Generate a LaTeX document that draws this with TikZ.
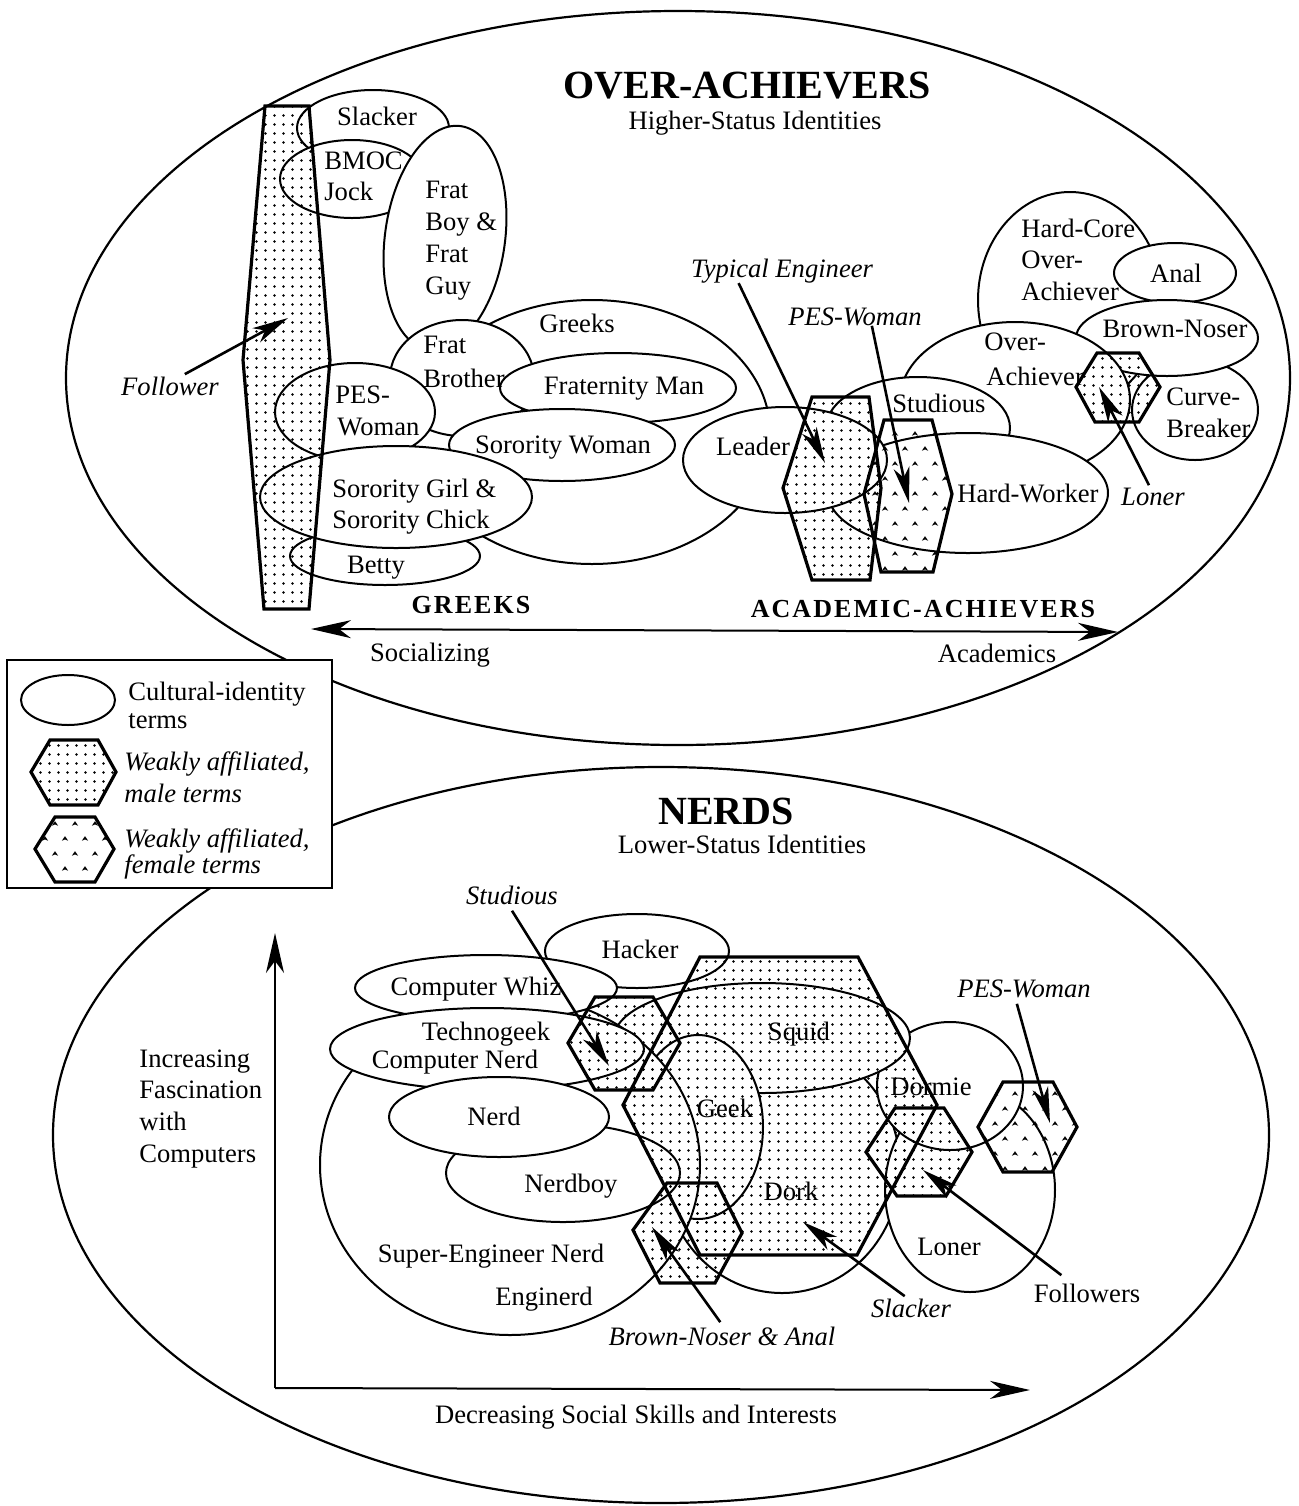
\documentclass[tikz,border=0pt]{standalone}
\usepackage{fontspec}
\setmainfont{Liberation Serif}
\usetikzlibrary{arrows.meta,patterns}
\pgfdeclarepatternformonly{maledots}{\pgfqpoint{-1pt}{-1pt}}{\pgfqpoint{5.5pt}{5.5pt}}{\pgfqpoint{4.5pt}{4.5pt}}{%
  \pgfpathcircle{\pgfqpoint{2.25pt}{2.25pt}}{0.7pt}\pgfusepath{fill}}
\pgfdeclarepatternformonly{femcarets}{\pgfqpoint{-1pt}{-1pt}}{\pgfqpoint{11pt}{16pt}}{\pgfqpoint{10pt}{15pt}}{%
  \pgfpathmoveto{\pgfqpoint{0.9pt}{2.6pt}}\pgfpathlineto{\pgfqpoint{2.5pt}{4.9pt}}\pgfpathlineto{\pgfqpoint{4.1pt}{2.6pt}}\pgfpathlineto{\pgfqpoint{2.5pt}{3.3pt}}\pgfpathclose
  \pgfpathmoveto{\pgfqpoint{5.9pt}{10.1pt}}\pgfpathlineto{\pgfqpoint{7.5pt}{12.4pt}}\pgfpathlineto{\pgfqpoint{9.1pt}{10.1pt}}\pgfpathlineto{\pgfqpoint{7.5pt}{10.8pt}}\pgfpathclose
  \pgfusepath{fill}}
\begin{document}
\begin{tikzpicture}[x=0.5pt,y=-0.5pt,
  ell/.style={draw,line width=1pt,fill=white},
  bigell/.style={draw,line width=1.1pt},
  mhex/.style={draw,line width=1.6pt,pattern=maledots},
  fhex/.style={draw,line width=1.6pt,pattern=femcarets},
  ptr/.style={line width=1.3pt,-{Stealth[length=18pt,width=8pt,inset=5pt]}},
  axisarrow/.style={line width=1pt,-{Stealth[length=20pt,width=9pt,inset=6pt]}},
  lab/.style={font=\fontsize{13.3}{16}\selectfont,inner sep=0pt},
  ilab/.style={font=\fontsize{13.3}{16}\selectfont\itshape,inner sep=0pt},
  title/.style={font=\fontsize{20}{24}\selectfont\bfseries,inner sep=0pt},
  caps/.style={font=\fontsize{13}{16}\selectfont\bfseries\addfontfeature{LetterSpace=8},inner sep=0pt}]
\useasboundingbox[fill=white] (0,0) rectangle (1299,1506);

% ---------- big group ellipses
\draw[bigell] (678,378) ellipse [x radius=612, y radius=367];
\draw[bigell] (661,1135) ellipse [x radius=608, y radius=368];

% ---------- top axis
\coordinate (socL) at (311,629);
\coordinate (acaR) at (1118,632);
\draw[line width=1pt,{Stealth[length=20pt,width=9pt,inset=6pt]}-{Stealth[length=20pt,width=9pt,inset=6pt]}] (socL) -- (acaR);

% ---------- bottom axes
\coordinate (orig) at (275,1388);
\coordinate (ytip) at (275,933);
\coordinate (xtip) at (1030,1390);
\draw[axisarrow] (orig) -- (ytip);
\draw[axisarrow] (orig) -- (xtip);

% ---------- top ellipses (Greeks side)
\draw[ell] (373,128) ellipse [x radius=76, y radius=38];
\draw[ell] (352,179) ellipse [x radius=72, y radius=39];
\draw[ell,rotate around={-8:(445,238)}] (445,238) ellipse [x radius=60, y radius=113];
\draw[ell] (592,432) ellipse [x radius=178, y radius=132];
\draw[ell] (462,378) ellipse [x radius=72, y radius=58];
\draw[ell] (618,388) ellipse [x radius=118, y radius=35];
\draw[ell] (562,445) ellipse [x radius=113, y radius=36];
\draw[ell] (355,412) ellipse [x radius=80, y radius=49];
\draw[ell] (385,556) ellipse [x radius=95, y radius=29];
\draw[ell] (396,497) ellipse [x radius=136, y radius=51];

% ---------- top ellipses (academic side)
\draw[ell] (1070,300) ellipse [x radius=92, y radius=108];
\draw[ell] (1175,273) ellipse [x radius=61, y radius=30];
\draw[ell] (1195,410) ellipse [x radius=63, y radius=50];
\draw[ell] (1167,338) ellipse [x radius=91, y radius=38];
\draw[ell] (1015,400) ellipse [x radius=115, y radius=78];
\draw[ell] (918,428) ellipse [x radius=92, y radius=51];
\draw[ell] (968,493) ellipse [x radius=140, y radius=60];
\draw[ell] (785,460) ellipse [x radius=102, y radius=53];

% ---------- bottom ellipses
\draw[ell] (782,1168) ellipse [x radius=118, y radius=125];
\draw[ell] (970,1190) ellipse [x radius=85, y radius=102];
\draw[ell] (950,1086) ellipse [x radius=73, y radius=64];
\draw[ell] (762,1038) ellipse [x radius=148, y radius=55];
\draw[ell] (698,1127) ellipse [x radius=65, y radius=92];
\draw[ell] (510,1165) ellipse [x radius=190, y radius=170];
\draw[ell] (637,951) ellipse [x radius=92, y radius=37];
\draw[ell] (486,988) ellipse [x radius=131, y radius=33];
\draw[ell] (487,1049) ellipse [x radius=157, y radius=41];
\draw[ell] (563,1173) ellipse [x radius=117, y radius=49];
\draw[ell] (499,1117) ellipse [x radius=110, y radius=40];

% ---------- weakly affiliated terms (hexagons)
\draw[mhex] (265,106) -- (309,106) -- (330,360) -- (309,609) -- (264,609) -- (243,360) -- cycle;
\draw[mhex] (812,397) -- (869,397) -- (881,488) -- (870,580) -- (812,580) -- (783,488) -- cycle;
\draw[fhex] (884,420) -- (932,420) -- (952,494) -- (933,572) -- (881,572) -- (864,494) -- cycle;
\draw[mhex] (1097,353) -- (1139,353) -- (1160,387) -- (1139,422) -- (1095,422) -- (1076,387) -- cycle;
\draw[mhex] (700,957) -- (858,957) -- (937,1105) -- (857,1255) -- (700,1255) -- (623,1105) -- cycle;
\draw[mhex] (595,997) -- (653,997) -- (680,1043) -- (653,1090) -- (595,1090) -- (568,1043) -- cycle;
\draw[mhex] (667,1183) -- (717,1183) -- (742,1233) -- (715,1283) -- (660,1283) -- (633,1230) -- cycle;
\draw[mhex] (895,1108) -- (944,1108) -- (972,1152) -- (946,1196) -- (897,1196) -- (866,1152) -- cycle;
\draw[fhex] (1003,1082) -- (1053,1082) -- (1077,1127) -- (1052,1172) -- (1003,1172) -- (978,1127) -- cycle;

% ---------- top texts
\node[title,anchor=base] (tOver) at (747,98) {OVER-ACHIEVERS};
\node[lab,anchor=base] (tHigher) at (755,129) {Higher-Status Identities};
\node[lab,anchor=base] (nSlacker) at (377,125) {Slacker};
\node[lab,anchor=base west] (nBmoc) at (324,169) {BMOC};
\node[lab,anchor=base west] (nJock) at (324,200) {Jock};
\node[lab,anchor=base west] (nFbA) at (425,198) {Frat};
\node[lab,anchor=base west] (nFbB) at (425,230) {Boy \&};
\node[lab,anchor=base west] (nFbC) at (425,262) {Frat};
\node[lab,anchor=base west] (nFbD) at (425,294) {Guy};
\node[lab,anchor=base] (nGreeks) at (577,332) {Greeks};
\node[lab,anchor=base west] (nFbrA) at (423,353) {Frat};
\node[lab,anchor=base west] (nFbrB) at (423,387) {Brother};
\node[lab,anchor=base] (nFratMan) at (624,394) {Fraternity Man};
\node[lab,anchor=base west] (nPesA) at (335,403) {PES-};
\node[lab,anchor=base west] (nPesB) at (337,435) {Woman};
\node[lab,anchor=base] (nSorW) at (563,453) {Sorority Woman};
\node[lab,anchor=base west] (nSgA) at (332,497) {Sorority Girl \&};
\node[lab,anchor=base west] (nSgB) at (332,528) {Sorority Chick};
\node[lab,anchor=base] (nBetty) at (376,573) {Betty};
\node[caps,anchor=base] (nGREEKS) at (471,613) {GREEKS};
\node[caps,anchor=base] (nACAD) at (923,617) {ACADEMIC-ACHIEVERS};
\node[lab,anchor=base] (nSoc) at (430,661) {Socializing};
\node[lab,anchor=base] (nAcad) at (997,662) {Academics};
\node[ilab,anchor=base] (lFollower) at (170,395) {Follower};
\node[lab,anchor=base] (nLeader) at (753,455) {Leader};
\node[lab,anchor=base] (nStud) at (939,412) {Studious};
\node[lab,anchor=base] (nHardW) at (1028,502) {Hard-Worker};
\node[lab,anchor=base west] (nOaA) at (984,350) {Over-};
\node[lab,anchor=base west] (nOaB) at (986,385) {Achiever};
\node[lab,anchor=base west] (nHcA) at (1021,237) {Hard-Core};
\node[lab,anchor=base west] (nHcB) at (1021,268) {Over-};
\node[lab,anchor=base west] (nHcC) at (1021,300) {Achiever};
\node[lab,anchor=base] (nAnal) at (1176,282) {Anal};
\node[lab,anchor=base] (nBrown) at (1175,337) {Brown-Noser};
\node[lab,anchor=base west] (nCbA) at (1166,405) {Curve-};
\node[lab,anchor=base west] (nCbB) at (1166,437) {Breaker};
\node[ilab,anchor=base] (lTypEng) at (782,277) {Typical Engineer};
\node[ilab,anchor=base] (lPesTop) at (855,325) {PES-Woman};
\node[ilab,anchor=base] (lLonerTop) at (1153,505) {Loner};

% ---------- bottom texts
\node[title,anchor=base] (tNerds) at (726,824) {NERDS};
\node[lab,anchor=base] (tLower) at (742,853) {Lower-Status Identities};
\node[ilab,anchor=base] (lStudB) at (512,904) {Studious};
\node[lab,anchor=base] (nHacker) at (640,958) {Hacker};
\node[lab,anchor=base] (nWhiz) at (476,995) {Computer Whiz};
\node[lab,anchor=base] (nTechno) at (486,1040) {Technogeek};
\node[lab,anchor=base] (nCompNerd) at (455,1068) {Computer Nerd};
\node[lab,anchor=base] (nNerd) at (494,1125) {Nerd};
\node[lab,anchor=base] (nNerdboy) at (571,1192) {Nerdboy};
\node[lab,anchor=base] (nSuper) at (491,1262) {Super-Engineer Nerd};
\node[lab,anchor=base] (nEnginerd) at (544,1305) {Enginerd};
\node[lab,anchor=base] (nSquid) at (799,1040) {Squid};
\node[lab,anchor=base] (nGeek) at (725,1117) {Geek};
\node[lab,anchor=base] (nDork) at (791,1200) {Dork};
\node[lab,anchor=base] (nDormie) at (931,1095) {Dormie};
\node[lab,anchor=base] (nLoner) at (949,1255) {Loner};
\node[lab,anchor=base] (lFollowers) at (1087,1302) {Followers};
\node[ilab,anchor=base] (lPesB) at (1024,997) {PES-Woman};
\node[ilab,anchor=base] (lSlackB) at (911,1317) {Slacker};
\node[ilab,anchor=base] (lBrownB) at (722,1345) {Brown-Noser \& Anal};
\node[lab,anchor=base] (nDecr) at (636,1423) {Decreasing Social Skills and Interests};
\node[lab,anchor=base west] (nIncA) at (139,1067) {Increasing};
\node[lab,anchor=base west] (nIncB) at (139,1098) {Fascination};
\node[lab,anchor=base west] (nIncC) at (139,1130) {with};
\node[lab,anchor=base west] (nIncD) at (139,1162) {Computers};

% ---------- pointer arrows
\coordinate (tgFollower) at (288,318);
\coordinate (tgTypEng) at (825,463);
\coordinate (tgPesTop) at (909,503);
\coordinate (tgLonerTop) at (1099,387);
\coordinate (tgStudB) at (609,1066);
\coordinate (tgPesB) at (1050,1123);
\coordinate (tgFollowers) at (923,1170);
\coordinate (tgSlackB) at (803,1222);
\coordinate (tgBrownB) at (652,1227);
\draw[ptr] ([xshift=32pt,yshift=1pt]lFollower.north west) -- (tgFollower);
\draw[ptr] ([xshift=24pt]lTypEng.south west) -- (tgTypEng);
\draw[ptr] ([xshift=42pt]lPesTop.south west) -- (tgPesTop);
\draw[ptr] ([xshift=-2pt,yshift=1pt]lLonerTop.north) -- (tgLonerTop);
\draw[ptr] ([yshift=-3pt]lStudB.south) -- (tgStudB);
\draw[ptr] ([xshift=30pt,yshift=-3pt]lPesB.south west) -- (tgPesB);
\draw[ptr] ([xshift=14pt,yshift=4pt]lFollowers.north west) -- (tgFollowers);
\draw[ptr] ([xshift=17pt,yshift=1pt]lSlackB.north west) -- (tgSlackB);
\draw[ptr] ([xshift=56pt,yshift=2pt]lBrownB.north west) -- (tgBrownB);

% ---------- legend
\draw[line width=1.2pt,fill=white] (7,660) rectangle (332,888);
\draw[line width=1pt] (68,700) ellipse [x radius=47, y radius=25];
\draw[mhex] (50,740) -- (98,740) -- (116,772) -- (98,805) -- (50,805) -- (31,772) -- cycle;
\draw[fhex] (55,817) -- (95,817) -- (114,849) -- (95,882) -- (55,882) -- (35,849) -- cycle;
\node[lab,anchor=base west] (lgA) at (128,700) {Cultural-identity};
\node[lab,anchor=base west] (lgB) at (128,728) {terms};
\node[ilab,anchor=base west] (lgC) at (124,770) {Weakly affiliated,};
\node[ilab,anchor=base west] (lgD) at (124,802) {male terms};
\node[ilab,anchor=base west] (lgE) at (124,847) {Weakly affiliated,};
\node[ilab,anchor=base west] (lgF) at (124,873) {female terms};
\end{tikzpicture}
\end{document}
